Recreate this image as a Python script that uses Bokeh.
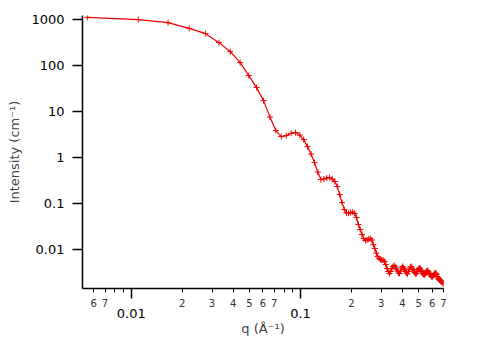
from bokeh.plotting import figure
from bokeh.models import FixedTicker, LogAxis, CustomJSTickFormatter
from bokeh.embed import file_html
from bokeh.resources import INLINE

# ---- data ----
q = [0.0055, 0.0110, 0.0165, 0.0220, 0.0275, 0.0330, 0.0385, 0.0440, 0.0495, 0.0550,
     0.0605, 0.0660, 0.0715, 0.0770, 0.0825, 0.0880, 0.0935, 0.0990, 0.1045, 0.1100,
     0.1155, 0.1210, 0.1265, 0.1320, 0.1375, 0.1430, 0.1485, 0.1540, 0.1595, 0.1650,
     0.1705, 0.1760, 0.1815, 0.1870, 0.1925, 0.1980, 0.2035, 0.2090, 0.2145, 0.2200,
     0.2255, 0.2310, 0.2365, 0.2420, 0.2475, 0.2530, 0.2585, 0.2640, 0.2695, 0.2750,
     0.2805, 0.2860, 0.2915, 0.2970, 0.3025, 0.3080, 0.3135, 0.3190, 0.3245, 0.3300,
     0.3355, 0.3410, 0.3465, 0.3520, 0.3575, 0.3630, 0.3685, 0.3740, 0.3795, 0.3850,
     0.3905, 0.3960, 0.4015, 0.4070, 0.4125, 0.4180, 0.4235, 0.4290, 0.4345, 0.4400,
     0.4455, 0.4510, 0.4565, 0.4620, 0.4675, 0.4730, 0.4785, 0.4840, 0.4895, 0.4950,
     0.5005, 0.5060, 0.5115, 0.5170, 0.5225, 0.5280, 0.5335, 0.5390, 0.5445, 0.5500,
     0.5555, 0.5610, 0.5665, 0.5720, 0.5775, 0.5830, 0.5885, 0.5940, 0.5995, 0.6050,
     0.6105, 0.6160, 0.6215, 0.6270, 0.6325, 0.6380, 0.6435, 0.6490, 0.6545, 0.6600,
     0.6655, 0.6710, 0.6765, 0.6820, 0.6875, 0.6930, 0.6985]

intensity = [1122, 1000, 861, 647, 496, 316, 201, 116, 60.6, 33.3,
             17.3, 7.59, 3.86, 2.86, 3.01, 3.37, 3.50, 3.08, 2.46, 1.73,
             1.19, 0.778, 0.484, 0.332, 0.341, 0.358, 0.367, 0.341, 0.301, 0.234,
             0.157, 0.105, 0.0741, 0.0622, 0.0615, 0.0637, 0.0653, 0.0607, 0.0496, 0.0349,
             0.0272, 0.0212, 0.0173, 0.0157, 0.0161, 0.0169, 0.0173, 0.0161, 0.0128, 0.0105,
             0.00839, 0.00705, 0.00637, 0.00607, 0.00591, 0.00591, 0.00548, 0.00472, 0.00386, 0.00333,
             0.00301, 0.00333, 0.00386, 0.00427, 0.00449, 0.00417, 0.00377, 0.00341, 0.00308, 0.00301,
             0.00341, 0.00396, 0.00427, 0.00396, 0.00368, 0.00333, 0.00308, 0.00296, 0.00333, 0.00377,
             0.00417, 0.00427, 0.00396, 0.00368, 0.00341, 0.00316, 0.00296, 0.00301, 0.00333, 0.00368,
             0.00386, 0.00396, 0.00377, 0.00349, 0.00324, 0.00301, 0.00286, 0.00279, 0.00293, 0.00316,
             0.00333, 0.00349, 0.00341, 0.00324, 0.00301, 0.00286, 0.00279, 0.00259, 0.00254, 0.00259,
             0.00279, 0.00286, 0.00301, 0.00306, 0.00301, 0.00286, 0.00259, 0.00240, 0.00228, 0.00223,
             0.00218, 0.00212, 0.00212, 0.00201, 0.00193, 0.00188, 0.00180]

y_ticks = [0.01, 0.1, 1, 10, 100, 1000]
y_tick_labels = ["0.01", "0.1", "1", "10", "100", "1000"]

x_minor_ticks = [0.006, 0.007, 0.008, 0.009, 0.02, 0.03, 0.04, 0.05, 0.06, 0.07, 0.08, 0.09,
                 0.2, 0.3, 0.4, 0.5, 0.6, 0.7]
x_minor_labels = ["6", "7", "", "", "2", "3", "4", "5", "6", "7", "", "",
                  "2", "3", "4", "5", "6", "7"]
x_major_ticks = [0.01, 0.1]
x_major_labels = ["0.01", "0.1"]

FONT = "DejaVu Sans"
RED = "#EE0000"

lookup = """
for (let i = 0; i < vals.length; i++) {
  if (Math.abs(vals[i] - tick) / vals[i] < 1e-6) return labs[i];
}
return "";
"""

p = figure(width=484, height=339, x_axis_type="log", y_axis_type="log",
           x_range=(0.00515, 0.7), y_range=(0.00142, 1230),
           output_backend="svg", toolbar_location=None, title=None,
           min_border_left=82, min_border_right=41, min_border_top=15, min_border_bottom=51)
p.outline_line_color = None
p.xgrid.visible = False
p.ygrid.visible = False
p.background_fill_color = "white"
p.border_fill_color = "white"

# data
p.line(q, intensity, line_color=RED, line_width=1.2)
p.scatter(q, intensity, marker="cross", size=6, line_color=RED, line_width=1)

# y axis
ya = p.yaxis[0]
ya.ticker = FixedTicker(ticks=y_ticks, minor_ticks=[])
ya.formatter = CustomJSTickFormatter(args=dict(vals=y_ticks, labs=y_tick_labels), code=lookup)
ya.major_tick_out = 10
ya.major_tick_in = 0
ya.major_tick_line_width = 1.5
ya.axis_line_width = 1.5
ya.major_label_standoff = 8
ya.major_label_text_font = FONT
ya.major_label_text_font_size = "13px"
ya.major_label_text_color = "black"
ya.axis_label = "Intensity (cm⁻¹)"
ya.axis_label_text_font = FONT
ya.axis_label_text_font_size = "13px"
ya.axis_label_text_font_style = "normal"
ya.axis_label_standoff = 6

# x axis: line, short labelled ticks (digits) and long ticks at decades
xa = p.xaxis[0]
xa.ticker = FixedTicker(ticks=x_minor_ticks, minor_ticks=x_major_ticks)
xa.formatter = CustomJSTickFormatter(args=dict(vals=x_minor_ticks, labs=x_minor_labels), code=lookup)
xa.major_tick_out = 4
xa.major_tick_in = 0
xa.minor_tick_out = 10
xa.minor_tick_in = 0
xa.major_tick_line_width = 1
xa.minor_tick_line_width = 1.5
xa.minor_tick_line_color = "black"
xa.axis_line_width = 1.5
xa.major_label_standoff = 0
xa.major_label_text_font = FONT
xa.major_label_text_font_size = "10px"
xa.major_label_text_color = "#333333"

# second row of x labels: the decades and the axis title
xb = LogAxis(ticker=FixedTicker(ticks=x_major_ticks, minor_ticks=[]),
             formatter=CustomJSTickFormatter(args=dict(vals=x_major_ticks, labs=x_major_labels), code=lookup))
xb.axis_line_color = None
xb.major_tick_line_color = None
xb.minor_tick_line_color = None
xb.major_tick_out = 0
xb.major_tick_in = 0
xb.minor_tick_out = 0
xb.major_label_standoff = -1
xb.major_label_text_font = FONT
xb.major_label_text_font_size = "13px"
xb.major_label_text_color = "black"
xb.axis_label = "q (Å⁻¹)"
xb.axis_label_text_font = FONT
xb.axis_label_text_font_size = "13px"
xb.axis_label_text_font_style = "normal"
xb.axis_label_standoff = 0
p.add_layout(xb, "below")

open("out.html", "w").write(file_html(p, INLINE))
